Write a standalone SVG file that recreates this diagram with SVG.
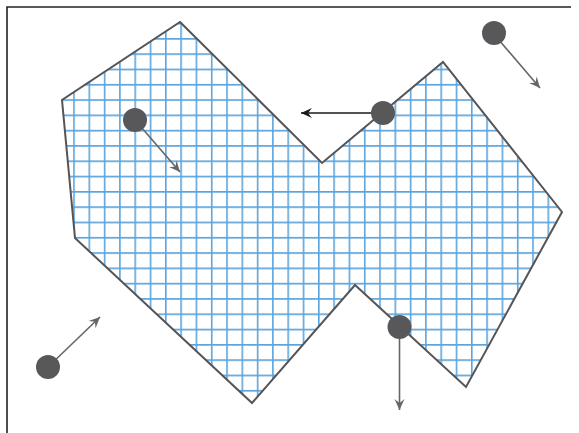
<svg xmlns="http://www.w3.org/2000/svg" width="579" height="433" viewBox="0 0 579 433">
  <style>
    .frame { stroke: #222; stroke-width: 1.6; fill: none; }
    .shape { fill: url(#grid); stroke: #555558; stroke-width: 2; stroke-linejoin: miter; }
    .dot { fill: #58585b; }
    .arr { stroke: #666; stroke-width: 1.6; fill: none; marker-end: url(#headGray); }
    .arrDark { stroke: #1a1a1a; stroke-width: 1.6; fill: none; marker-end: url(#headDark); }
  </style>
  <defs>
    <pattern id="grid" patternUnits="userSpaceOnUse" x="12" y="7.4" width="15.3" height="15.3">
      <rect x="0" y="0" width="15.3" height="15.3" fill="#ffffff"/>
      <path d="M0.8,0 V15.3 M0,0.8 H15.3" stroke="#5ba4dc" stroke-width="1.6" fill="none"/>
    </pattern>
    <marker id="headGray" markerUnits="userSpaceOnUse" markerWidth="14" markerHeight="12" refX="12" refY="6" orient="auto" viewBox="0 0 14 12">
      <path d="M12,6 L1,1 L5,6 L1,11 Z" fill="#666"/>
    </marker>
    <marker id="headDark" markerUnits="userSpaceOnUse" markerWidth="14" markerHeight="12" refX="12" refY="6" orient="auto" viewBox="0 0 14 12">
      <path d="M12,6 L1,1 L5,6 L1,11 Z" fill="#1a1a1a"/>
    </marker>
  </defs>
  <rect width="579" height="433" fill="#ffffff"/>
  <path class="frame" d="M7,433 V7 H571"/>
  <g id="region">
    <polygon class="shape" points="180,22 322,163 443,62 562,212 466,387 355,285 252,403 75,238 62,100"/>
  </g>
  <g id="connectors">
    <line class="arr" x1="493" y1="33" x2="540" y2="88"/>
    <line class="arrDark" x1="383" y1="113" x2="301" y2="113"/>
    <line class="arr" x1="135" y1="120" x2="180" y2="172"/>
    <line class="arr" x1="48" y1="367" x2="100" y2="317"/>
    <line class="arr" x1="399.5" y1="327" x2="399.5" y2="410"/>
  </g>
  <g id="p1"><circle class="dot" cx="494" cy="33" r="12"/></g>
  <g id="p2"><circle class="dot" cx="383" cy="113" r="12"/></g>
  <g id="p3"><circle class="dot" cx="135" cy="120" r="12"/></g>
  <g id="p4"><circle class="dot" cx="48" cy="367" r="12"/></g>
  <g id="p5"><circle class="dot" cx="399.5" cy="327" r="12"/></g>
</svg>
